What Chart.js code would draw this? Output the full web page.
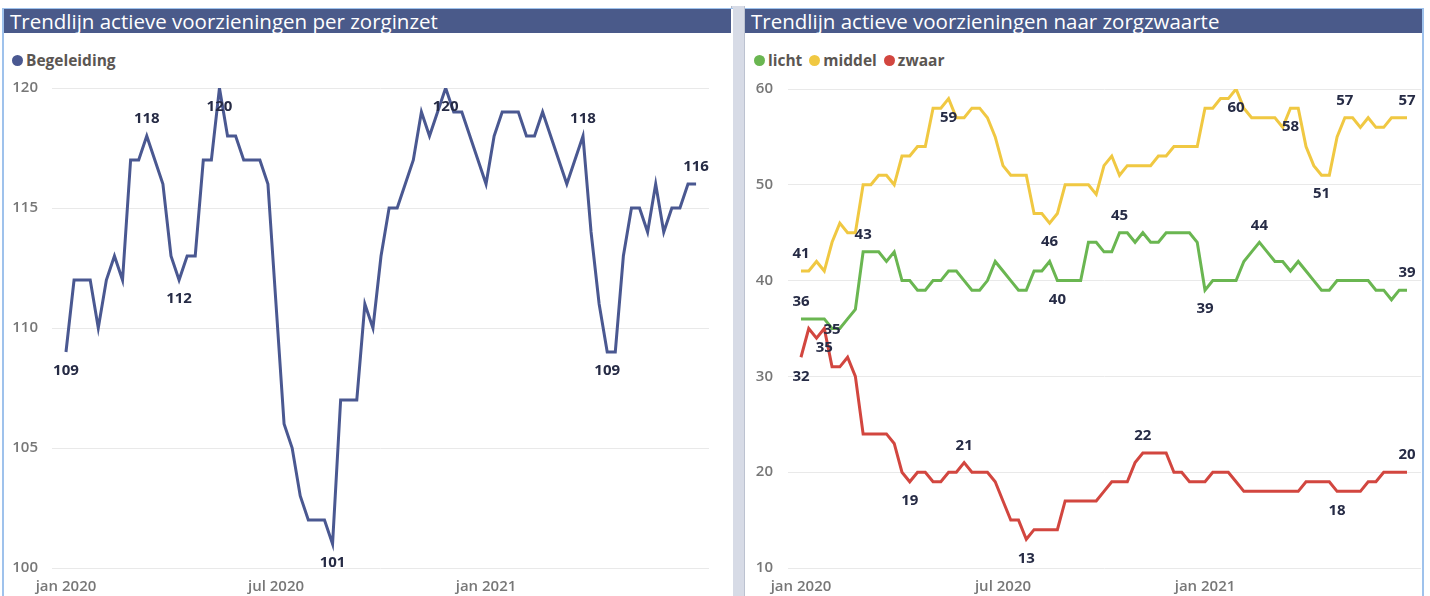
<!DOCTYPE html>
<html>
<head>
<meta charset="utf-8">
<script src="https://cdn.jsdelivr.net/npm/chart.js@4.4.1/dist/chart.umd.min.js"></script>
<style>
  body { margin: 0; width: 1430px; height: 596px; overflow: hidden; position: relative; background: #fff; font-family: 'Open Sans', sans-serif; }
  .abs { position: absolute; }
  .gap { left: 731px; top: 6px; width: 12px; height: 590px; background: #d7dbe6; border-left: 1px solid #b4bac8; border-right: 1px solid #bcc2d0; }
  .panel { top: 8px; height: 588px; background: #fff; border-top: 1px solid #9fc2ec; }
  .bar { top: 9px; height: 24px; background: #4a5a8a; color: #fff; font-size: 20.5px; line-height: 24px; padding-left: 6px; box-sizing: border-box; white-space: nowrap; }
  .legend { top: 49px; font-size: 15.5px; font-weight: 700; color: #5b5652; display: flex; align-items: center; white-space: nowrap; }
  .legend span.dot { display: inline-block; width: 11px; height: 11px; border-radius: 50%; margin-right: 3px; }
  .legend span.txt { margin-right: 7px; }
</style>
</head>
<body>
<div class="abs gap"></div>
<div class="abs panel" style="left:2px;width:729px;border-left:2px solid #9fc2ec;"></div>
<div class="abs panel" style="left:745px;width:677px;border-right:2px solid #9fc2ec;"></div>
<div class="abs bar" style="left:4px;width:727px;">Trendlijn actieve voorzieningen per zorginzet</div>
<div class="abs bar" style="left:745px;width:677px;">Trendlijn actieve voorzieningen naar zorgzwaarte</div>
<div class="abs legend" style="left:12px;" id="legLeft"></div>
<div class="abs legend" style="left:754px;" id="legRight"></div>
<canvas id="leftChart" class="abs" style="left:4px;top:70px;" width="727" height="526"></canvas>
<canvas id="rightChart" class="abs" style="left:745px;top:70px;" width="679" height="526"></canvas>
<script>
// weekly values, first week of jan 2020 up to summer 2021
var begeleiding = [109, 112, 112, 112, 110, 112, 113, 112, 117, 117,
    118, 117, 116, 113, 112, 113, 113, 117, 117, 120,
    118, 118, 117, 117, 117, 116, 111, 106, 105, 103,
    102, 102, 102, 101, 107, 107, 107, 111, 110, 113,
    115, 115, 116, 117, 119, 118, 119, 120, 119, 119,
    118, 117, 116, 118, 119, 119, 119, 118, 118, 119,
    118, 117, 116, 117, 118, 114, 111, 109, 109, 113,
    115, 115, 114, 116, 114, 115, 115, 116, 116];
var licht = [36, 36, 36, 36, 35, 35, 36, 37, 43, 43,
    43, 42, 43, 40, 40, 39, 39, 40, 40, 41,
    41, 40, 39, 39, 40, 42, 41, 40, 39, 39,
    41, 41, 42, 40, 40, 40, 40, 44, 44, 43,
    43, 45, 45, 44, 45, 44, 44, 45, 45, 45,
    45, 44, 39, 40, 40, 40, 40, 42, 43, 44,
    43, 42, 42, 41, 42, 41, 40, 39, 39, 40,
    40, 40, 40, 40, 39, 39, 38, 39, 39];
var middel = [41, 41, 42, 41, 44, 46, 45, 45, 50, 50,
    51, 51, 50, 53, 53, 54, 54, 58, 58, 59,
    57, 57, 58, 58, 57, 55, 52, 51, 51, 51,
    47, 47, 46, 47, 50, 50, 50, 50, 49, 52,
    53, 51, 52, 52, 52, 52, 53, 53, 54, 54,
    54, 54, 58, 58, 59, 59, 60, 58, 57, 57,
    57, 57, 56, 58, 58, 54, 52, 51, 51, 55,
    57, 57, 56, 57, 56, 56, 57, 57, 57];
var zwaar = [32, 35, 34, 35, 31, 31, 32, 30, 24, 24,
    24, 24, 23, 20, 19, 20, 20, 19, 19, 20,
    20, 21, 20, 20, 20, 19, 17, 15, 15, 13,
    14, 14, 14, 14, 17, 17, 17, 17, 17, 18,
    19, 19, 19, 21, 22, 22, 22, 22, 20, 20,
    19, 19, 19, 20, 20, 20, 19, 18, 18, 18,
    18, 18, 18, 18, 18, 19, 19, 19, 19, 18,
    18, 18, 18, 19, 19, 20, 20, 20, 20];
//week index of each month tick
var tickWeeks = [0, 26, 52];
var tickLabels = ["jan 2020", "jul 2020", "jan 2021"];
//which points get a data label (week index)
var labelsBegeleiding = [[0, 'down'], [10, 'up'], [14, 'down'], [19, 'down'], [33, 'down'], [47, 'down'], [64, 'up'], [67, 'down'], [78, 'up']];
var labelsLicht = [[0, 'up'], [4, 'mid'], [8, 'up'], [33, 'down'], [41, 'up'], [52, 'down'], [59, 'up'], [78, 'up']];
var labelsMiddel = [[0, 'up'], [19, 'down'], [32, 'down'], [56, 'down'], [63, 'down'], [67, 'down'], [70, 'up'], [78, 'up']];
var labelsZwaar = [[0, 'down'], [3, 'down'], [14, 'down'], [21, 'up'], [29, 'down'], [44, 'up'], [69, 'down'], [78, 'up']];

Chart.defaults.font.family = "'Open Sans', sans-serif";

function toPoints(values) {
    return values.map(function (v, i) { return { x: i, y: v }; });
}
//data labels like power bi
var pointLabels = {
    id: 'pointLabels',
    afterDatasetsDraw: function (chart) {
        var ctx = chart.ctx;
        ctx.save();
        ctx.font = "bold 15px 'Open Sans'";
        ctx.fillStyle = '#262b45';
        ctx.textAlign = 'center';
        ctx.textBaseline = 'middle';
        chart.data.datasets.forEach(function (ds, di) {
            var meta = chart.getDatasetMeta(di);
            (ds.labelAt || []).forEach(function (l) {
                var pt = meta.data[l[0]];
                var dy = l[1] === 'up' ? -17 : (l[1] === 'down' ? 19 : 1);
                ctx.fillText(ds.data[l[0]].y, pt.x, pt.y + dy);
            });
        });
        ctx.restore();
    }
};
function dataset(label, values, color, labelAt) {
    return {
        label: label,
        data: toPoints(values),
        borderColor: color,
        backgroundColor: color,
        borderWidth: 3,
        pointRadius: 0,
        tension: 0,
        labelAt: labelAt
    };
}
function chartConfiguration(datasets, opt) {
    return {
        type: 'line',
        data: { datasets: datasets },
        plugins: [pointLabels],
        options: {
            responsive: false,
            animation: false,
            layout: { padding: { left: 0, right: opt.padRight, top: opt.padTop, bottom: 0 } },
            plugins: { legend: { display: false }, tooltip: { enabled: false } },
            scales: {
                x: {
                    type: 'linear',
                    min: opt.xMin,
                    max: opt.xMax,
                    grid: { display: false },
                    border: { display: false },
                    afterBuildTicks: function (axis) {
                        axis.ticks = tickWeeks.map(function (w) { return { value: w }; });
                    },
                    afterFit: function (axis) {
                        axis.height = 28;
                        axis.paddingLeft = 0;
                        axis.paddingRight = 0;
                    },
                    ticks: {
                        autoSkip: false,
                        maxRotation: 0,
                        padding: 2,
                        color: '#777777',
                        font: { size: 15, weight: '600' },
                        callback: function (value) { return tickLabels[tickWeeks.indexOf(value)]; }
                    }
                },
                y: {
                    min: opt.yMin,
                    max: opt.yMax,
                    grid: { color: '#e9e9e9', drawTicks: false },
                    border: { display: false },
                    afterFit: function (axis) {
                        axis.width = opt.yWidth;
                        axis.paddingTop = 0;
                        axis.paddingBottom = 0;
                    },
                    ticks: {
                        stepSize: opt.step,
                        padding: opt.tickPad,
                        color: '#777777',
                        font: { size: 15, weight: '600' }
                    }
                }
            }
        }
    };
}
function legend(id, items) {
    var el = document.getElementById(id);
    items.forEach(function (it) {
        el.innerHTML += '<span class="dot" style="background:' + it[1] + '"></span><span class="txt">' + it[0] + '</span>';
    });
}
var navy = '#4a5891', green = '#6ab651', yellow = '#f0c842', red = '#d2463f';
legend('legLeft', [['Begeleiding', navy]]);
legend('legRight', [['licht', green], ['middel', yellow], ['zwaar', red]]);

new Chart(document.getElementById('leftChart'), chartConfiguration(
    [dataset('Begeleiding', begeleiding, navy, labelsBegeleiding)],
    { xMin: -1.73, xMax: 79.6, yMin: 100, yMax: 120, step: 5, yWidth: 48, tickPad: 14, padRight: 22, padTop: 18 }));
new Chart(document.getElementById('rightChart'), chartConfiguration(
    [dataset('licht', licht, green, labelsLicht),
        dataset('middel', middel, yellow, labelsMiddel),
        dataset('zwaar', zwaar, red, labelsZwaar)],
    { xMin: -1.67, xMax: 79.8, yMin: 10, yMax: 60, step: 10, yWidth: 43, tickPad: 15, padRight: 3, padTop: 19 }));
</script>
</body>
</html>
